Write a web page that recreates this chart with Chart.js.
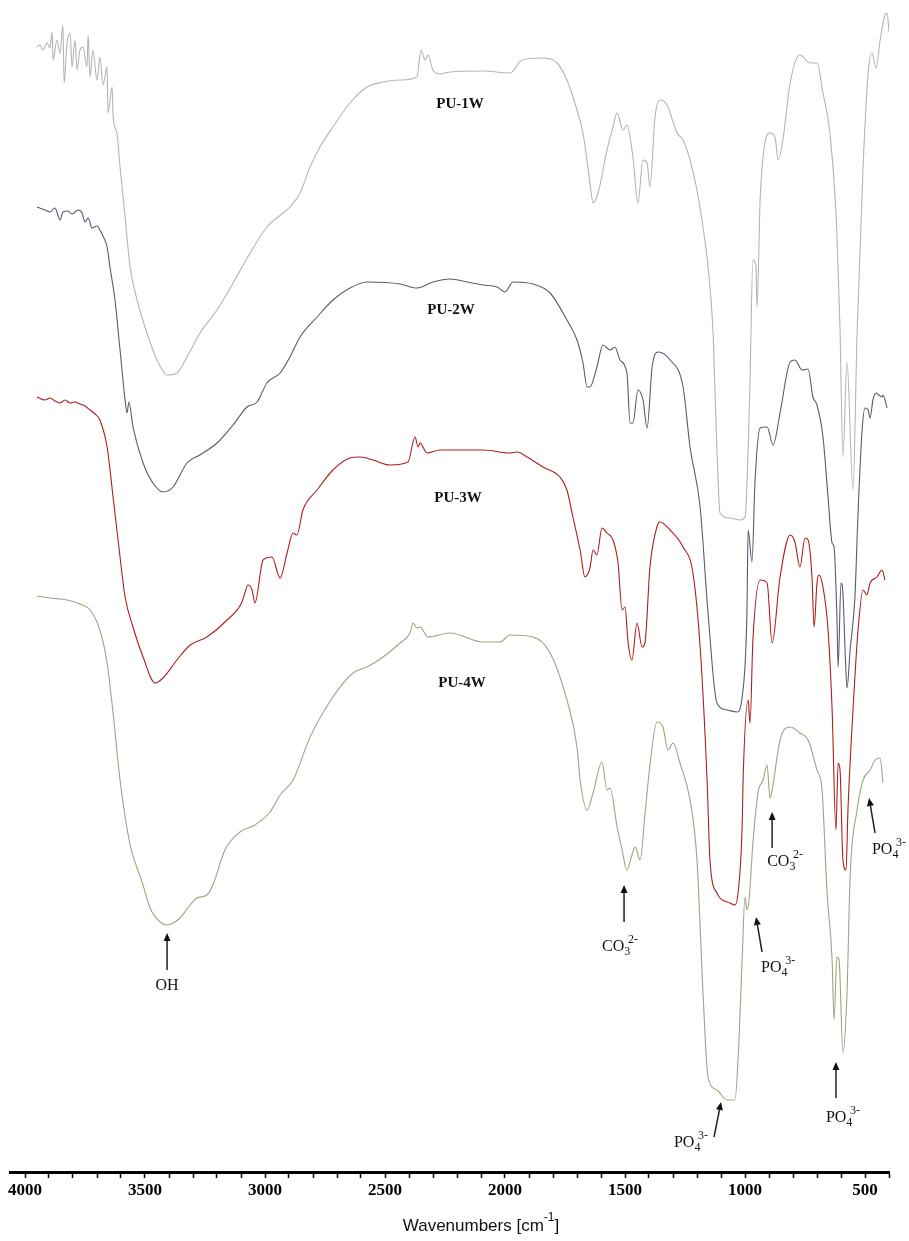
<!DOCTYPE html>
<html>
<head>
<meta charset="utf-8">
<title>FTIR spectra PU-1W to PU-4W</title>
<script src="https://cdn.jsdelivr.net/npm/chart.js@4.4.1/dist/chart.umd.min.js"></script>
<style>
  html, body { margin: 0; padding: 0; background: #fff; }
  #wrap { position: relative; width: 909px; height: 1241px; }
</style>
</head>
<body>
<div id="wrap"><canvas id="ftirChart"></canvas></div>
<script>
(function () {
    'use strict';

    // ── axis ticks (cm-1) ──────────────────────────────────────────────
    const X_TICKS = [4000, 3500, 3000, 2500, 2000, 1500, 1000, 500];

    // ── spectra: wavenumber (cm-1) and transmittance (a.u., stacked) ───
    const PU1_WN = [3950,3938,3925,3908,3896,3887,3883,3867,3854,3842,3837,3825,3812,3804,3792,3783,3771,3758,3742,3737,
        3729,3717,3700,3688,3675,3658,3654,3637,3633,3617,3604,3583,3562,3533,3492,3450,3408,3367,3325,3271,
        3200,3133,3062,2992,2925,2896,2854,2812,2771,2717,2646,2575,2508,2437,2367,2350,2333,2321,2300,2271,
        2229,2092,1979,1929,1842,1783,1742,1700,1675,1646,1633,1612,1575,1550,1533,1508,1492,1467,1446,1425,
        1408,1396,1375,1354,1325,1283,1258,1229,1200,1175,1154,1133,1117,1104,1062,1021,1000,987,979,967,
        954,950,937,917,896,875,862,842,812,771,729,700,675,646,617,604,592,575,550,533,
        508,487,471,454,437,417,408,400];
    const PU1_T = [1125,1127,1122,1129,1124,1140,1112,1132,1119,1147,1089,1129,1139,1105,1132,1102,1122,1125,1105,1137,
        1095,1122,1092,1115,1087,1105,1059,1085,1055,1039,1005,955,905,872,839,812,797,799,815,839,
        862,889,919,945,959,965,979,1005,1025,1045,1069,1085,1090,1092,1095,1122,1112,1117,1102,1098,
        1100,1101,1099,1112,1114,1109,1092,1062,1039,989,969,979,1022,1045,1059,1042,1047,1015,969,1012,
        1009,985,1055,1072,1067,1039,1032,1012,982,945,905,839,722,659,654,652,655,722,792,912,
        905,865,972,1029,1039,1035,1012,1032,1089,1117,1109,1109,1079,1039,939,842,715,810,682,839,
        1005,1099,1119,1104,1132,1157,1159,1140];

    const PU2_WN = [3950,3917,3896,3875,3854,3842,3821,3804,3779,3762,3750,3737,3721,3700,3688,3675,3658,3646,3625,3604,
        3583,3575,3567,3550,3508,3467,3425,3383,3325,3271,3200,3133,3075,3033,2992,2937,2896,2854,2783,2717,
        2646,2575,2437,2367,2300,2229,2158,2092,2033,2000,1967,1883,1812,1742,1700,1675,1658,1646,1617,1592,
        1562,1542,1521,1492,1479,1467,1446,1425,1408,1387,1362,1312,1258,1229,1187,1154,1117,1075,1033,1012,
        992,987,971,958,937,908,883,854,812,792,762,737,717,700,675,654,637,629,617,612,
        600,592,583,575,562,542,529,512,500,487,479,467,454,429,425,408];
    const PU2_T = [965,962,960,964,952,960,961,958,962,959,950,954,944,946,942,936,925,905,872,822,
        772,759,770,745,709,689,680,685,709,717,729,747,765,770,789,799,815,835,855,872,
        884,890,888,884,890,893,890,887,885,880,890,888,879,852,832,809,785,785,805,827,
        822,825,812,799,749,749,782,772,744,805,820,812,785,725,665,559,469,462,460,475,
        559,642,610,692,744,745,727,759,810,812,802,803,775,767,735,675,629,625,555,505,
        589,579,522,484,522,575,659,742,764,762,754,772,779,775,777,764];

    const PU3_WN = [3950,3917,3896,3875,3854,3833,3812,3792,3771,3750,3729,3708,3688,3658,3633,3604,3583,3550,3508,3458,
        3425,3367,3312,3242,3158,3096,3083,3071,3054,3042,3008,2971,2937,2908,2883,2867,2842,2783,2717,2646,
        2604,2550,2479,2404,2375,2362,2354,2325,2271,2092,1979,1950,1908,1842,1771,1742,1717,1687,1667,1646,
        1633,1617,1596,1575,1550,1529,1512,1500,1487,1471,1450,1429,1417,1396,1367,1354,1312,1258,1217,1187,
        1158,1146,1117,1062,1042,1029,1012,1008,987,979,967,937,908,887,854,812,792,771,750,737,
        721,712,700,692,675,654,637,621,612,604,592,579,571,550,529,508,492,479,450,429,417];
    const PU3_T = [775,772,774,771,769,772,769,770,768,766,762,758,752,725,675,615,575,545,515,489,
        494,512,527,535,552,570,580,587,582,569,612,615,594,619,639,637,662,682,702,714,
        715,712,707,710,735,725,729,719,722,722,719,720,715,705,695,682,655,622,595,604,
        622,617,644,639,632,609,562,565,529,512,549,525,529,605,645,650,642,625,599,525,
        392,312,279,269,267,279,345,392,472,449,532,592,589,529,595,637,630,605,634,632,
        595,545,589,597,585,542,462,342,409,402,312,302,362,462,542,582,577,589,595,602,592];

    const PU4_WN = [3950,3896,3825,3771,3729,3688,3658,3633,3604,3562,3533,3512,3479,3437,3408,3383,3354,3312,3283,3242,
        3217,3167,3104,3042,2979,2937,2883,2812,2717,2633,2575,2508,2437,2396,2383,2367,2354,2321,2229,2092,
        2021,1979,1883,1812,1742,1700,1687,1658,1633,1596,1575,1562,1533,1512,1492,1471,1458,1437,1417,1396,
        1367,1342,1321,1300,1271,1229,1200,1175,1154,1117,1075,1042,1029,1012,1000,992,983,967,946,925,
        908,896,887,854,812,771,737,700,679,658,637,629,617,608,592,575,562,533,508,479,
        458,437,425];
    const PU4_T = [576,574,572,568,562,542,509,459,392,327,304,290,264,250,247,249,254,267,274,277,
        287,322,340,347,360,377,392,435,475,499,505,515,529,539,549,544,545,535,539,530,
        530,537,535,519,472,425,392,362,379,410,382,384,345,322,302,317,325,312,357,407,
        450,445,422,429,409,372,312,179,95,82,72,72,112,212,275,262,272,329,379,392,
        407,374,382,432,445,439,432,402,382,279,212,152,215,212,119,179,295,362,392,402,
        412,414,389];

    const SERIES = [
        { name: 'PU-1W', wn: PU1_WN, t: PU1_T, color: '#b5b5ae' },
        { name: 'PU-2W', wn: PU2_WN, t: PU2_T, color: '#5a5a74' },
        { name: 'PU-3W', wn: PU3_WN, t: PU3_T, color: '#b01d1d' },
        { name: 'PU-4W', wn: PU4_WN, t: PU4_T, color: '#9da680' },
    ];

    // sample tags, placed in data space [cm-1, a.u.]
    const TAGS = [
        { text: 'PU-1W', at: [2187, 1068] },
        { text: 'PU-2W', at: [2225, 862] },
        { text: 'PU-3W', at: [2196, 674] },
        { text: 'PU-4W', at: [2179, 489] },
    ];

    // band assignments: arrow tail -> tip, then label centre
    const BANDS = [
        { base: 'OH', sub: '', sup: '',    tail: [3408, 202], tip: [3408, 239], label: [3408, 186] },
        { base: 'CO', sub: '3', sup: '2-', tail: [1504, 250], tip: [1504, 287], label: [1521, 225] },
        { base: 'PO', sub: '4', sup: '3-', tail: [1129, 35],  tip: [1100, 70],  label: [1225, 29] },
        { base: 'PO', sub: '4', sup: '3-', tail: [929, 220],  tip: [954, 255],  label: [862, 204] },
        { base: 'CO', sub: '3', sup: '2-', tail: [887, 324],  tip: [887, 360],  label: [833, 310] },
        { base: 'PO', sub: '4', sup: '3-', tail: [621, 74],   tip: [621, 110],  label: [592, 54] },
        { base: 'PO', sub: '4', sup: '3-', tail: [458, 339],  tip: [483, 374],  label: [471, 322], align: 'left' },
    ];

    const SERIF = '"Liberation Serif", "Times New Roman", serif';
    const SANS  = '"Liberation Sans", Arial, sans-serif';

    function drawArrow(ctx, x1, y1, x2, y2) {
        const a = Math.atan2(y2 - y1, x2 - x1);
        const len = 8, half = 3.5;
        const bx = x2 - len * Math.cos(a), by = y2 - len * Math.sin(a);
        ctx.beginPath();
        ctx.moveTo(x1, y1);
        ctx.lineTo(bx, by);
        ctx.stroke();
        ctx.beginPath();
        ctx.moveTo(x2, y2);
        ctx.lineTo(bx + half * Math.sin(a), by - half * Math.cos(a));
        ctx.lineTo(bx - half * Math.sin(a), by + half * Math.cos(a));
        ctx.closePath();
        ctx.fill();
    }

    function drawChem(ctx, b, cx, cy) {
        const big = '16px ' + SERIF, small = '12px ' + SERIF;
        ctx.font = big;
        const wb = ctx.measureText(b.base).width;
        ctx.font = small;
        const ws = b.sub ? ctx.measureText(b.sub).width : 0;
        const wp = b.sup ? ctx.measureText(b.sup).width : 0;
        const supX = wb + ws * 0.6;
        const total = b.sup ? supX + wp : wb;
        const left = b.align === 'left' ? cx : cx - total / 2;
        ctx.textAlign = 'left';
        ctx.textBaseline = 'middle';
        ctx.font = big;
        ctx.fillText(b.base, left, cy);
        ctx.font = small;
        if (b.sub) ctx.fillText(b.sub, left + wb, cy + 5);
        if (b.sup) ctx.fillText(b.sup, left + supX, cy - 7);
    }

    const annotate = {
        id: 'ftirAnnotations',
        afterDraw(chart) {
            const { ctx, scales } = chart;
            const px = (v) => scales.x.getPixelForValue(v);
            const py = (v) => scales.y.getPixelForValue(v);
            ctx.save();
            ctx.fillStyle = '#111';

            ctx.font = 'bold 15px ' + SERIF;
            ctx.textAlign = 'center';
            ctx.textBaseline = 'middle';
            TAGS.forEach(t => ctx.fillText(t.text, px(t.at[0]), py(t.at[1])));

            ctx.strokeStyle = '#222';
            ctx.fillStyle = '#111';
            ctx.lineWidth = 1.5;
            BANDS.forEach(b => {
                drawArrow(ctx, px(b.tail[0]), py(b.tail[1]), px(b.tip[0]), py(b.tip[1]));
                drawChem(ctx, b, px(b.label[0]), py(b.label[1]));
            });

            // axis title with superscript
            const main = 'Wavenumbers [cm', sup = '-1', end = ']';
            ctx.font = '17px ' + SANS;
            const w1 = ctx.measureText(main).width, w3 = ctx.measureText(end).width;
            ctx.font = '12px ' + SANS;
            const w2 = ctx.measureText(sup).width;
            const cx = px(2100), cy = chart.height - 15;
            let x0 = cx - (w1 + w2 + w3) / 2;
            ctx.textAlign = 'left';
            ctx.font = '17px ' + SANS;
            ctx.fillText(main, x0, cy);
            ctx.font = '12px ' + SANS;
            ctx.fillText(sup, x0 + w1, cy - 8);
            ctx.font = '17px ' + SANS;
            ctx.fillText(end, x0 + w1 + w2, cy);
            ctx.restore();
        }
    };

    new Chart(document.getElementById('ftirChart'), {
        type: 'line',
        data: {
            datasets: SERIES.map(s => ({
                label: s.name,
                data: s.wn.map((w, i) => ({ x: w, y: s.t[i] })),
                borderColor: s.color,
                borderWidth: 1.1,
                pointRadius: 0,
                cubicInterpolationMode: 'monotone',
                tension: 0.4,
                fill: false,
            }))
        },
        options: {
            responsive: true,
            maintainAspectRatio: false,
            animation: false,
            devicePixelRatio: 1,
            layout: { padding: { left: 10, right: 20, top: 0, bottom: 0 } },
            plugins: { legend: { display: false }, tooltip: { enabled: false } },
            scales: {
                x: {
                    type: 'linear',
                    reverse: true,
                    min: 400,
                    max: 4062.5,
                    afterBuildTicks(scale) {
                        const ticks = [];
                        for (let v = 400; v <= X_TICKS[0]; v += 100) ticks.push({ value: v });
                        scale.ticks = ticks;
                    },
                    afterFit(scale) { scale.height = 69; },
                    ticks: {
                        autoSkip: false,
                        maxRotation: 0,
                        padding: 2,
                        color: '#000',
                        font: { family: SERIF, size: 17, weight: 'bold' },
                        callback: (v) => X_TICKS.includes(v) ? String(v) : ''
                    },
                    grid: { drawOnChartArea: false, drawTicks: true, tickLength: 6, tickColor: '#000', tickWidth: 1.5 },
                    border: { display: true, color: '#000', width: 3 }
                },
                y: { display: false, min: 0, max: 1172 }
            }
        },
        plugins: [annotate]
    });
})();
</script>
</body>
</html>
